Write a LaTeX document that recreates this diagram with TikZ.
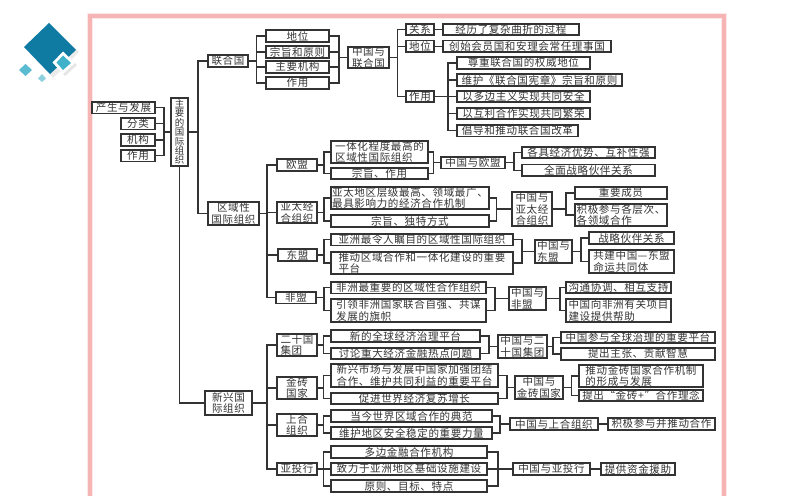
\documentclass[tikz,border=0pt]{standalone}
\usepackage{fontspec}
\setmainfont{Noto Sans CJK SC}[LetterSpace=6]
\definecolor{ink}{HTML}{333333}
\definecolor{edge}{HTML}{333333}
\definecolor{logoa}{HTML}{0F7BA3}
\definecolor{logob}{HTML}{3FB1C9}
\definecolor{logoc}{HTML}{5BBBD0}
\definecolor{logod}{HTML}{8FD0DE}
\definecolor{framea}{HTML}{F6B4B4}
\definecolor{frameb}{HTML}{FCE8E8}
\tikzset{
  bx/.style={draw=edge,line width=0.85pt,fill=white,inner sep=0pt,outer sep=0pt,text=ink,font=\fontsize{7.9}{8.4}\selectfont,align=center},
  bxl/.style={bx,align=left},
  bxv/.style={bx,font=\fontsize{7.1}{7.1}\selectfont},
  conn/.style={draw=edge,line width=0.85pt,line join=miter}
}
\newcommand{\mybox}[7][bx]{%
  \pgfmathsetmacro\myw{(#5-#3)*0.75}%
  \pgfmathsetmacro\myh{(#6-#4)*0.75}%
  \pgfmathsetmacro\mycx{(#3+#5)/2}%
  \pgfmathsetmacro\mycy{(#4+#6)/2}%
  \node[#1,minimum width=\myw pt,minimum height=\myh pt] (#2) at (\mycx,\mycy) {#7};%
}
\newcommand{\fan}[3]{%
  \coordinate (bus) at (#2,0);%
  \foreach \kid in {#3} {\draw[conn] (#1.east) -- (#1.east -| bus) |- (\kid.west);}%
}
\newcommand{\fanin}[3]{%
  \coordinate (bus) at (#2,0);%
  \foreach \kid in {#3} {\draw[conn] (\kid.east) -- (\kid.east -| bus) |- (#1.west);}%
}
\begin{document}
\begin{tikzpicture}[x=0.75pt,y=-0.75pt]
\useasboundingbox (0,0) rectangle (794,496);
\fill[white] (0,0) rectangle (794,496);
\clip (0,0) rectangle (794,496);
% frame
\draw[line width=4.2pt,color=frameb] (90,16) rectangle (724,520);
\draw[line width=2.3pt,color=framea] (90,16) rectangle (724,520);
% logo
\fill[black!8] (51,26) -- (79,52) -- (53,78) -- (27,50) -- cycle;
\fill[logoa] (49,23) -- (76,50) -- (50,74) -- (24,47) -- cycle;
\fill[black!10] (65,54) -- (77,65) -- (65,76) -- (55,65) -- cycle;
\fill[white] (63,51.5) -- (75,63) -- (63,74) -- (52.5,62.5) -- cycle;
\fill[logob] (63,55.5) -- (71,63) -- (63,70) -- (56.5,62.5) -- cycle;
\fill[logoc] (25.5,64) -- (32,70) -- (25.5,76) -- (19,70) -- cycle;
\fill[logod] (42,74) -- (46,78.5) -- (42,82) -- (38,78.5) -- cycle;
% left
\mybox{a1}{92}{102}{155}{113.5}{产生与发展}
\mybox{a2}{121}{118}{155}{129.5}{分类}
\mybox{a3}{121}{134}{155}{146}{机构}
\mybox{a4}{121}{150}{155}{161.5}{作用}
\mybox[bxv]{root}{171}{98}{188}{166}{主\\要\\的\\国\\际\\组\\织}
\mybox{un}{208}{55}{248}{67}{联合国}
\mybox{reg}{208}{202}{259}{225}{区域性\\国际组织}
\mybox{emg}{205}{391}{252}{415}{新兴国\\际组织}
% UN
\mybox{u1}{266}{30}{329}{42}{地位}
\mybox{u2}{266}{46}{329}{58}{宗旨和原则}
\mybox{u3}{266}{61}{329}{73}{主要机构}
\mybox{u4}{266}{77}{329}{89}{作用}
\mybox{cu}{348}{47}{389}{68}{中国与\\联合国}
\mybox{r1}{406}{24}{434}{35}{关系}
\mybox{r2}{406}{40.5}{434}{52}{地位}
\mybox{r3}{406}{91}{434}{102}{作用}
\mybox{r1a}{443}{24}{579}{35}{经历了复杂曲折的过程}
\mybox{r2a}{443}{40.5}{611}{52}{创始会员国和安理会常任理事国}
\mybox{e1}{457}{57}{590}{69}{尊重联合国的权威地位}
\mybox{e2}{457}{74}{622}{86}{维护《联合国宪章》宗旨和原则}
\mybox{e3}{457}{91}{590}{102}{以多边主义实现共同安全}
\mybox{e4}{457}{108}{590}{119}{以互利合作实现共同繁荣}
\mybox{e5}{457}{125}{578}{136.5}{倡导和推动联合国改革}
% regional
\mybox{b1}{277}{159}{317}{171}{欧盟}
\mybox{b2}{277}{202}{317}{223}{亚太经\\合组织}
\mybox{b3}{278}{249}{317}{261}{东盟}
\mybox{b4}{276}{292}{316}{303.5}{非盟}
\mybox[bxl]{c1}{331}{141}{428}{163}{一体化程度最高的\\区域性国际组织}
\mybox{c2}{331}{168}{428}{179}{宗旨、作用}
\mybox[bxl]{c3}{331}{187}{489}{209}{亚太地区层级最高、领域最广、\\最具影响力的经济合作机制}
\mybox{c4}{331}{215}{489}{227}{宗旨、独特方式}
\mybox{c5}{331}{234}{513}{245.5}{亚洲最令人瞩目的区域性国际组织}
\mybox[bxl]{c6}{331}{252}{513}{274}{推动区域合作和一体化建设的重要\\平台}
\mybox{c7}{331}{282}{486}{293.5}{非洲最重要的区域性合作组织}
\mybox[bxl]{c8}{331}{299}{486}{322}{引领非洲国家联合自强、共谋\\发展的旗帜}
\mybox{d1}{441}{157}{505}{168.5}{中国与欧盟}
\mybox{f1}{522}{147}{655}{158}{各具经济优势、互补性强}
\mybox{f2}{522}{164.5}{655}{176}{全面战略伙伴关系}
\mybox{d2}{512}{192}{552}{226}{中国与\\亚太经\\合组织}
\mybox{f3}{575}{187}{667}{199}{重要成员}
\mybox[bxl]{f4}{575}{204}{667}{226}{积极参与各层次、\\各领域合作}
\mybox[bxl]{d3}{535}{240}{572}{263}{中国与\\东盟}
\mybox{f5}{589}{232}{674}{244}{战略伙伴关系}
\mybox[bxl]{f6}{589}{250}{674}{273}{共建中国—东盟\\命运共同体}
\mybox[bxl]{d4}{509}{287}{546}{310}{中国与\\非盟}
\mybox{f7}{566}{282}{671}{293}{沟通协调、相互支持}
\mybox[bxl]{f8}{566}{299}{671}{322}{中国向非洲有关项目\\建设提供帮助}
% emerging
\mybox[bxl]{g1}{277}{334}{317}{356}{二十国\\集团}
\mybox{g2}{277}{377}{317}{399}{金砖\\国家}
\mybox{g3}{277}{414}{317}{436}{上合\\组织}
\mybox{g4}{277}{463}{317}{475}{亚投行}
\mybox{h1}{331}{330}{480}{342}{新的全球经济治理平台}
\mybox{h2}{331}{348}{480}{359}{讨论重大经济金融热点问题}
\mybox[bxl]{h3}{331}{364}{498}{387}{新兴市场与发展中国家加强团结\\合作、维护共同利益的重要平台}
\mybox{h4}{331}{393}{498}{404}{促进世界经济复苏增长}
\mybox{h5}{331}{410}{492}{422}{当今世界区域合作的典范}
\mybox{h6}{331}{427}{492}{439}{维护地区安全稳定的重要力量}
\mybox{h7}{331}{446}{487}{458}{多边金融合作机构}
\mybox{h8}{331}{463}{487}{475}{致力于亚洲地区基础设施建设}
\mybox{h9}{331}{480}{487}{492}{原则、目标、特点}
\mybox{k1}{498}{335}{547}{358}{中国与二\\十国集团}
\mybox{m1}{561}{332}{715}{343}{中国参与全球治理的重要平台}
\mybox{m2}{561}{348}{715}{360}{提出主张、贡献智慧}
\mybox{k2}{515}{376}{563}{399}{中国与\\金砖国家}
\mybox[bxl]{m3}{579}{365}{703}{387}{推动金砖国家合作机制\\的形成与发展}
\mybox{m4}{579}{390}{703}{401}{提出“金砖+”合作理念}
\mybox{k3}{510}{418}{598}{430}{中国与上合组织}
\mybox{m5}{608}{418}{715}{430}{积极参与并推动合作}
\mybox{k4}{513}{463}{590}{475}{中国与亚投行}
\mybox{m6}{601}{463}{675}{475}{提供资金援助}
% connectors
\fanin{root}{164}{a1,a2,a3,a4}
\fan{root}{198}{un,reg}
\draw[conn] (root.south) |- (emg.west);
\fan{un}{256.5}{u1,u2,u3,u4}
\fanin{cu}{339}{u1,u2,u3,u4}
\fan{cu}{397.5}{r1,r2,r3}
\draw[conn] (r1.east) -- (r1a.west);
\draw[conn] (r2.east) -- (r2a.west);
\fan{r3}{448}{e1,e2,e3,e4,e5}
\fan{reg}{267}{b1,b2,b3,b4}
\fan{b1}{324}{c1,c2}
\fan{b2}{324}{c3,c4}
\fan{b3}{324}{c5,c6}
\fan{b4}{324}{c7,c8}
\fanin{d1}{433.5}{c1,c2}
\fanin{d2}{496.5}{c3,c4}
\fanin{d3}{522}{c5,c6}
\fanin{d4}{495}{c7,c8}
\fan{d1}{514}{f1,f2}
\fan{d2}{566}{f3,f4}
\fan{d3}{581}{f5,f6}
\fan{d4}{560}{f7,f8}
\fan{emg}{267}{g1,g2,g3,g4}
\fan{g1}{323.5}{h1,h2}
\fan{g2}{323.5}{h3,h4}
\fan{g3}{323.5}{h5,h6}
\fan{g4}{323.5}{h7,h8,h9}
\fanin{k1}{489}{h1,h2}
\fanin{k2}{507}{h3,h4}
\fanin{k3}{500}{h5,h6}
\fanin{k4}{498}{h7,h8,h9}
\fan{k1}{553}{m1,m2}
\fan{k2}{571.5}{m3,m4}
\draw[conn] (k3.east) -- (m5.west);
\draw[conn] (k4.east) -- (m6.west);
\end{tikzpicture}
\end{document}
